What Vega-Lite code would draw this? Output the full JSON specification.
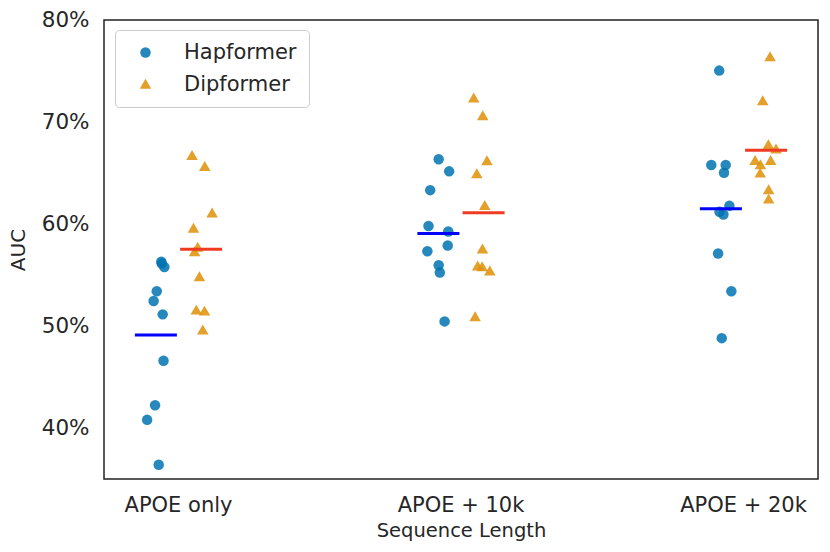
{
  "$schema": "https://vega.github.io/schema/vega-lite/v6.json",
  "autosize": {"type": "none"},
  "width": 714,
  "height": 459,
  "padding": {"left": 104, "top": 20, "right": 12, "bottom": 73},
  "background": "white",
  "config": {
    "font": "DejaVu Sans",
    "view": {"stroke": "#222222", "strokeWidth": 1.5},
    "axis": {"grid": false, "ticks": false, "domain": false, "labelColor": "#262626", "titleColor": "#262626", "titleFontWeight": "normal"},
    "legend": {
      "orient": "none",
      "legendX": 11,
      "legendY": 10,
      "padding": 12,
      "strokeColor": "#cccccc",
      "cornerRadius": 4,
      "fillColor": "rgba(255,255,255,0.8)",
      "labelFontSize": 21,
      "labelColor": "#262626",
      "labelOffset": 28,
      "symbolOffset": 8,
      "symbolSize": 110,
      "symbolOpacity": 0.85,
      "rowPadding": 10
    }
  },
  "data": {
    "values": [
      {"group": "APOE only", "model": "Hapformer", "auc": 0.5612, "jitter": -0.059},
      {"group": "APOE only", "model": "Hapformer", "auc": 0.5579, "jitter": -0.050},
      {"group": "APOE only", "model": "Hapformer", "auc": 0.5630, "jitter": -0.061},
      {"group": "APOE only", "model": "Hapformer", "auc": 0.5340, "jitter": -0.077},
      {"group": "APOE only", "model": "Hapformer", "auc": 0.5245, "jitter": -0.088},
      {"group": "APOE only", "model": "Hapformer", "auc": 0.5114, "jitter": -0.056},
      {"group": "APOE only", "model": "Hapformer", "auc": 0.4659, "jitter": -0.053},
      {"group": "APOE only", "model": "Hapformer", "auc": 0.4223, "jitter": -0.083},
      {"group": "APOE only", "model": "Hapformer", "auc": 0.4080, "jitter": -0.111},
      {"group": "APOE only", "model": "Hapformer", "auc": 0.3640, "jitter": -0.070},
      {"group": "APOE only", "model": "Dipformer", "auc": 0.6669, "jitter": 0.048},
      {"group": "APOE only", "model": "Dipformer", "auc": 0.6561, "jitter": 0.093},
      {"group": "APOE only", "model": "Dipformer", "auc": 0.6106, "jitter": 0.119},
      {"group": "APOE only", "model": "Dipformer", "auc": 0.5956, "jitter": 0.053},
      {"group": "APOE only", "model": "Dipformer", "auc": 0.5769, "jitter": 0.068},
      {"group": "APOE only", "model": "Dipformer", "auc": 0.5726, "jitter": 0.057},
      {"group": "APOE only", "model": "Dipformer", "auc": 0.5480, "jitter": 0.074},
      {"group": "APOE only", "model": "Dipformer", "auc": 0.5153, "jitter": 0.063},
      {"group": "APOE only", "model": "Dipformer", "auc": 0.5143, "jitter": 0.092},
      {"group": "APOE only", "model": "Dipformer", "auc": 0.4957, "jitter": 0.086},
      {"group": "APOE + 10k", "model": "Hapformer", "auc": 0.6634, "jitter": -0.079},
      {"group": "APOE + 10k", "model": "Hapformer", "auc": 0.6516, "jitter": -0.042},
      {"group": "APOE + 10k", "model": "Hapformer", "auc": 0.6332, "jitter": -0.109},
      {"group": "APOE + 10k", "model": "Hapformer", "auc": 0.5981, "jitter": -0.115},
      {"group": "APOE + 10k", "model": "Hapformer", "auc": 0.5926, "jitter": -0.045},
      {"group": "APOE + 10k", "model": "Hapformer", "auc": 0.5789, "jitter": -0.047},
      {"group": "APOE + 10k", "model": "Hapformer", "auc": 0.5733, "jitter": -0.119},
      {"group": "APOE + 10k", "model": "Hapformer", "auc": 0.5595, "jitter": -0.079},
      {"group": "APOE + 10k", "model": "Hapformer", "auc": 0.5524, "jitter": -0.075},
      {"group": "APOE + 10k", "model": "Hapformer", "auc": 0.5045, "jitter": -0.058},
      {"group": "APOE + 10k", "model": "Dipformer", "auc": 0.7233, "jitter": 0.045},
      {"group": "APOE + 10k", "model": "Dipformer", "auc": 0.7059, "jitter": 0.077},
      {"group": "APOE + 10k", "model": "Dipformer", "auc": 0.6617, "jitter": 0.092},
      {"group": "APOE + 10k", "model": "Dipformer", "auc": 0.6489, "jitter": 0.056},
      {"group": "APOE + 10k", "model": "Dipformer", "auc": 0.6178, "jitter": 0.084},
      {"group": "APOE + 10k", "model": "Dipformer", "auc": 0.5752, "jitter": 0.076},
      {"group": "APOE + 10k", "model": "Dipformer", "auc": 0.5585, "jitter": 0.059},
      {"group": "APOE + 10k", "model": "Dipformer", "auc": 0.5579, "jitter": 0.075},
      {"group": "APOE + 10k", "model": "Dipformer", "auc": 0.5536, "jitter": 0.102},
      {"group": "APOE + 10k", "model": "Dipformer", "auc": 0.5087, "jitter": 0.050},
      {"group": "APOE + 20k", "model": "Hapformer", "auc": 0.7504, "jitter": -0.086},
      {"group": "APOE + 20k", "model": "Hapformer", "auc": 0.6578, "jitter": -0.114},
      {"group": "APOE + 20k", "model": "Hapformer", "auc": 0.6578, "jitter": -0.063},
      {"group": "APOE + 20k", "model": "Hapformer", "auc": 0.6502, "jitter": -0.069},
      {"group": "APOE + 20k", "model": "Hapformer", "auc": 0.6178, "jitter": -0.050},
      {"group": "APOE + 20k", "model": "Hapformer", "auc": 0.6119, "jitter": -0.085},
      {"group": "APOE + 20k", "model": "Hapformer", "auc": 0.6093, "jitter": -0.071},
      {"group": "APOE + 20k", "model": "Hapformer", "auc": 0.5710, "jitter": -0.090},
      {"group": "APOE + 20k", "model": "Hapformer", "auc": 0.5340, "jitter": -0.043},
      {"group": "APOE + 20k", "model": "Hapformer", "auc": 0.4881, "jitter": -0.077},
      {"group": "APOE + 20k", "model": "Dipformer", "auc": 0.7636, "jitter": 0.094},
      {"group": "APOE + 20k", "model": "Dipformer", "auc": 0.7206, "jitter": 0.068},
      {"group": "APOE + 20k", "model": "Dipformer", "auc": 0.6774, "jitter": 0.088},
      {"group": "APOE + 20k", "model": "Dipformer", "auc": 0.6732, "jitter": 0.115},
      {"group": "APOE + 20k", "model": "Dipformer", "auc": 0.6620, "jitter": 0.041},
      {"group": "APOE + 20k", "model": "Dipformer", "auc": 0.6620, "jitter": 0.096},
      {"group": "APOE + 20k", "model": "Dipformer", "auc": 0.6578, "jitter": 0.060},
      {"group": "APOE + 20k", "model": "Dipformer", "auc": 0.6496, "jitter": 0.059},
      {"group": "APOE + 20k", "model": "Dipformer", "auc": 0.6332, "jitter": 0.089},
      {"group": "APOE + 20k", "model": "Dipformer", "auc": 0.6241, "jitter": 0.089}
    ]
  },
  "encoding": {
    "x": {
      "field": "group",
      "type": "nominal",
      "sort": ["APOE only", "APOE + 10k", "APOE + 20k"],
      "scale": {"paddingInner": 0.5, "paddingOuter": 0.0137},
      "axis": {"labelAngle": 0, "labelFontSize": 21, "labelPadding": 15, "title": "Sequence Length", "titleFontSize": 19.5, "titlePadding": 6}
    },
    "y": {
      "field": "auc",
      "type": "quantitative",
      "scale": {"domain": [0.35, 0.8], "nice": false, "zero": false},
      "axis": {"values": [0.4, 0.5, 0.6, 0.7, 0.8], "format": ".0%", "labelFontSize": 21.5, "labelPadding": 15, "title": "AUC", "titleFontSize": 20, "titlePadding": 13}
    }
  },
  "layer": [
    {
      "mark": {"type": "point", "filled": true, "opacity": 0.85, "size": 110},
      "encoding": {
        "xOffset": {"field": "jitter", "type": "quantitative", "scale": {"domain": [-0.25, 0.25], "nice": false, "zero": false}},
        "color": {
          "field": "model",
          "type": "nominal",
          "scale": {"domain": ["Hapformer", "Dipformer"], "range": ["#0173b2", "#de8f05"]},
          "legend": {"title": null}
        },
        "shape": {
          "field": "model",
          "type": "nominal",
          "scale": {"domain": ["Hapformer", "Dipformer"], "range": ["circle", "M-1.1,0.8L1.1,0.8L0,-1.1Z"]},
          "legend": {"title": null}
        }
      }
    },
    {
      "transform": [{"filter": "datum.model == 'Hapformer'"}],
      "mark": {"type": "tick", "orient": "horizontal", "size": 42, "thickness": 3, "color": "#0000ff", "opacity": 1},
      "encoding": {
        "xOffset": {"field": "model", "type": "nominal", "scale": {"domain": ["Hapformer", "Dipformer"], "paddingInner": 0, "paddingOuter": 0.5625}},
        "y": {"aggregate": "mean", "field": "auc", "type": "quantitative"}
      }
    },
    {
      "transform": [{"filter": "datum.model == 'Dipformer'"}],
      "mark": {"type": "tick", "orient": "horizontal", "size": 42, "thickness": 3, "color": "#ef3b22", "opacity": 1},
      "encoding": {
        "xOffset": {"field": "model", "type": "nominal", "scale": {"domain": ["Hapformer", "Dipformer"], "paddingInner": 0, "paddingOuter": 0.5625}},
        "y": {"aggregate": "mean", "field": "auc", "type": "quantitative"}
      }
    }
  ],
  "resolve": {"scale": {"xOffset": "independent"}}
}
